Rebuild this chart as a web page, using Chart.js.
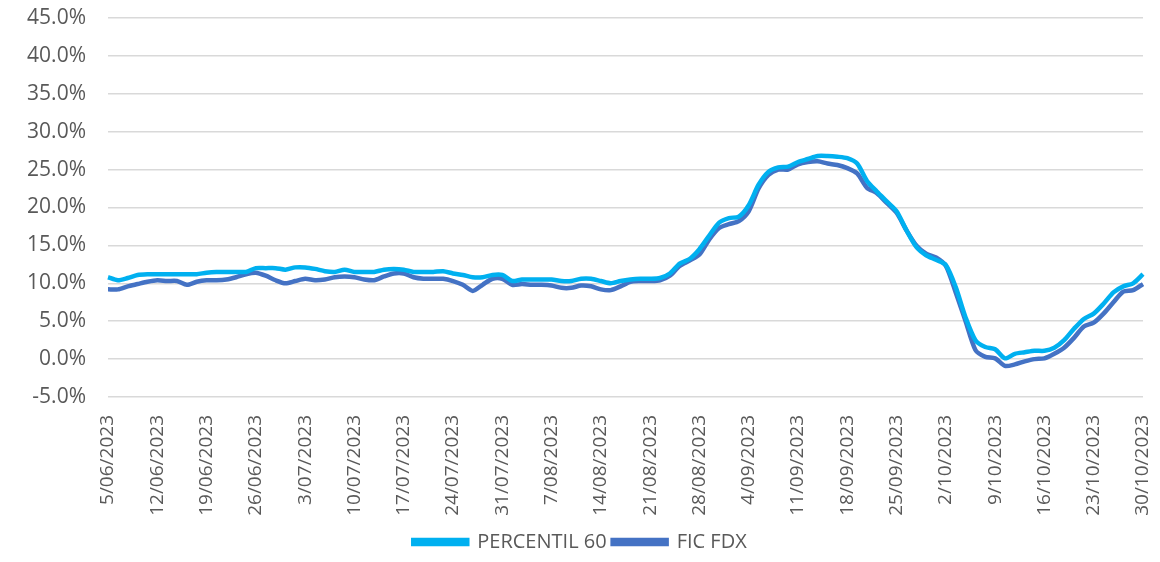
<!DOCTYPE html>
<html>
<head>
<meta charset="utf-8">
<script src="https://cdn.jsdelivr.net/npm/chart.js@4"></script>
<style>
  html, body { margin: 0; padding: 0; background: #fff; }
  #wrap { width: 1160px; height: 562px; }
</style>
</head>
<body>
<div id="wrap"><canvas id="chart"></canvas></div>
<script>
// weekly tick labels (Mondays), data is one point per business day
const tickLabels = ["5/06/2023","12/06/2023","19/06/2023","26/06/2023","3/07/2023","10/07/2023","17/07/2023",
  "24/07/2023","31/07/2023","7/08/2023","14/08/2023","21/08/2023","28/08/2023","4/09/2023","11/09/2023",
  "18/09/2023","25/09/2023","2/10/2023","9/10/2023","16/10/2023","23/10/2023","30/10/2023"];

const percentil60 = [10.8,10.4,10.7,11.1,11.2, 11.2,11.2,11.2,11.2,11.2, 11.4,11.5,11.5,11.5,11.5,
  12.0,12.0,12.0,11.8,12.1, 12.1,11.9,11.6,11.5,11.8, 11.5,11.5,11.5,11.8,11.9,
  11.8,11.5,11.5,11.5,11.6, 11.3,11.1,10.8,10.8,11.1, 11.1,10.3,10.5,10.5,10.5,
  10.5,10.3,10.3,10.6,10.6, 10.3,10.0,10.3,10.5,10.6, 10.6,10.7,11.3,12.6,13.2,
  14.5,16.3,18.0,18.6,18.8, 20.3,23.0,24.7,25.3,25.4, 26.0,26.4,26.8,26.8,26.7,
  26.5,25.8,23.5,22.1,20.8, 19.5,17.0,14.8,13.7,13.1, 12.4,9.5,5.5,2.5,1.6,
  1.3,0.1,0.7,0.9,1.1, 1.1,1.5,2.5,4.0,5.3, 6.0,7.3,8.8,9.6,10.0, 11.2];

const ficFdx = [9.2,9.2,9.6,9.9,10.2, 10.4,10.3,10.3,9.8,10.2, 10.4,10.4,10.5,10.8,11.2,
  11.4,11.0,10.4,10.0,10.3, 10.6,10.4,10.5,10.8,10.9, 10.8,10.5,10.4,10.9,11.3,
  11.3,10.8,10.6,10.6,10.6, 10.3,9.8,9.0,9.8,10.6, 10.6,9.8,9.9,9.8,9.8,
  9.7,9.4,9.4,9.7,9.6, 9.2,9.1,9.6,10.2,10.3, 10.3,10.4,11.0,12.3,13.0,
  13.8,15.8,17.3,17.8,18.2, 19.5,22.5,24.3,25.0,25.0, 25.7,26.0,26.1,25.8,25.6,
  25.2,24.5,22.6,21.9,20.6, 19.3,17.0,15.0,13.9,13.4, 12.3,8.8,5.0,1.2,0.3,
  0.1,-0.9,-0.7,-0.3,0.0, 0.1,0.7,1.5,2.8,4.3, 4.8,6.0,7.5,8.9,9.1, 9.9];

// business days from 5/06/2023
const labels = [];
let d = new Date(2023, 5, 5);
while (labels.length < ficFdx.length) {
  const wd = d.getDay();
  if (wd !== 0 && wd !== 6) {
    labels.push(d.getDate() + "/" + String(d.getMonth() + 1).padStart(2, "0") + "/" + d.getFullYear());
  }
  d.setDate(d.getDate() + 1);
}

const gray = "#595959";
const fam = "'Open Sans', sans-serif";

new Chart(document.getElementById("chart"), {
  type: "line",
  data: {
    labels: labels,
    datasets: [
      { label: "PERCENTIL 60", data: percentil60, borderColor: "#00B0F0", backgroundColor: "#00B0F0",
        borderWidth: 4.5, pointRadius: 0, tension: 0.25 },
      { label: "FIC FDX", data: ficFdx, borderColor: "#4472C4", backgroundColor: "#4472C4",
        borderWidth: 4.5, pointRadius: 0, tension: 0.25 }
    ]
  },
  options: {
    responsive: true,
    maintainAspectRatio: false,
    animation: false,
    layout: { padding: 0 },
    plugins: {
      tooltip: { enabled: false },
      legend: {
        position: "bottom",
        labels: { color: gray, font: { family: fam, size: 20 }, boxWidth: 54, boxHeight: 4, padding: 6 }
      }
    },
    scales: {
      x: {
        offset: false,
        grid: { display: false },
        border: { display: false },
        ticks: {
          color: gray, font: { family: fam, size: 19 }, autoSkip: false, minRotation: 90, maxRotation: 90, padding: 10,
          callback: function (v, i) { return i % 5 === 0 ? tickLabels[i / 5] : null; }
        },
        afterFit: function (s) { s.height = 129; s.paddingRight = 17; s.paddingLeft = 0; }
      },
      y: {
        min: -5, max: 45,
        grid: { color: "#d9d9d9", lineWidth: 1.5, drawTicks: false },
        border: { display: false },
        ticks: {
          stepSize: 5, color: gray, font: { family: fam, size: 21 }, padding: 22,
          callback: function (v) { return v.toFixed(1) + "%"; }
        },
        afterFit: function (s) { s.width = 108; s.paddingTop = 18; s.paddingBottom = 0; }
      }
    }
  }
});
</script>
</body>
</html>
